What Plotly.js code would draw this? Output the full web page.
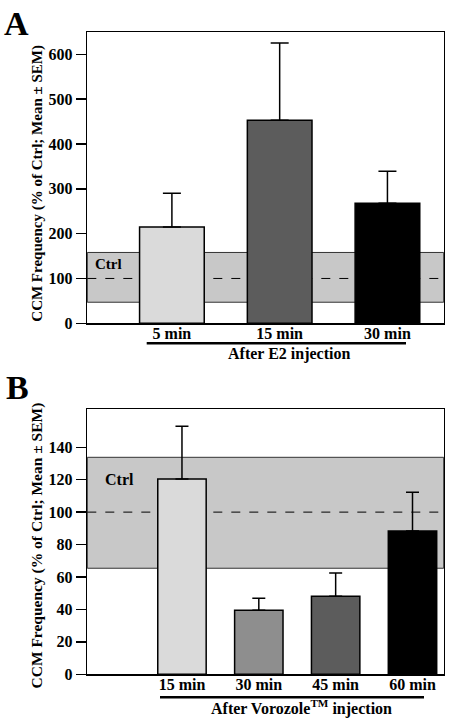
<!DOCTYPE html>
<html>
<head>
<meta charset="utf-8">
<script src="https://cdn.plot.ly/plotly-3.0.1.min.js"></script>
<style>html,body{margin:0;padding:0;background:#fff;}#chart{width:450px;height:720px;}</style>
</head>
<body>
<div id="chart"></div>
<script>
// ---- Data ----
const categoriesA = ['5 min', '15 min', '30 min'];
const valuesA = [215, 453, 268];
const semA = [75, 172, 71];
const ctrlA = {mean: 100, low: 47, high: 158};

const categoriesB = ['15 min', '30 min', '45 min', '60 min'];
const valuesB = [120.4, 39.5, 48.1, 88.4];
const semB = [32.6, 7.4, 14.4, 23.8];
const ctrlB = {mean: 100, low: 65.4, high: 133.8};

const ticksA = [0, 100, 200, 300, 400, 500, 600];
const ticksB = [0, 20, 40, 60, 80, 100, 120, 140];

const yTitle = 'CCM Frequency (% of Ctrl; Mean \u00b1 SEM)';
const groupA = 'After E2 injection';
const groupB = 'After Vorozole<sup>TM</sup> injection';

// ---- Layout helpers ----
const W = 450, H = 720;
const px = v => v / W;
const py = v => 1 - v / H;
const FONT = 'Liberation Serif';
const boldFont = (size) => ({family: FONT, size: size, color: '#000', weight: 'bold'});

const colorsA = ['#dadada', '#5c5c5c', '#000000'];
const colorsB = ['#dadada', '#8e8e8e', '#5c5c5c', '#000000'];

const traces = [
  {
    type: 'bar', x: categoriesA, y: valuesA, xaxis: 'x', yaxis: 'y',
    width: 0.6,
    marker: {color: colorsA, line: {color: '#000', width: 1.5}},
    error_y: {type: 'data', symmetric: false, array: semA, arrayminus: semA.map(() => 0),
              color: '#000', thickness: 1.5, width: 9},
    hoverinfo: 'skip', showlegend: false
  },
  {
    type: 'bar', x: categoriesB, y: valuesB, xaxis: 'x2', yaxis: 'y2',
    width: 0.63,
    marker: {color: colorsB, line: {color: '#000', width: 1.5}},
    error_y: {type: 'data', symmetric: false, array: semB, arrayminus: semB.map(() => 0),
              color: '#000', thickness: 1.5, width: 6.5},
    hoverinfo: 'skip', showlegend: false
  }
];

const xCommon = {
  type: 'category', showgrid: false, zeroline: false,
  showline: true, mirror: true, linecolor: '#000', linewidth: 1.5,
  ticks: '', tickfont: boldFont(16), ticklabelstandoff: -5, fixedrange: true
};
const yCommon = {
  showgrid: false, zeroline: false,
  showline: true, mirror: true, linecolor: '#000', linewidth: 1.5,
  ticks: 'outside', ticklen: 10, tickwidth: 1.5, tickcolor: '#000',
  tickfont: boldFont(16), fixedrange: true
};

const layout = {
  width: W, height: H,
  margin: {l: 0, r: 0, t: 0, b: 0},
  paper_bgcolor: '#fff', plot_bgcolor: '#fff',
  font: {family: FONT, color: '#000'},
  showlegend: false,
  xaxis: Object.assign({}, xCommon, {domain: [px(87.3), px(443.7)], range: [-0.785, 2.522], anchor: 'y'}),
  yaxis: Object.assign({}, yCommon, {domain: [py(323.3), py(32.3)], range: [0, 649], tickvals: ticksA, anchor: 'x'}),
  xaxis2: Object.assign({}, xCommon, {domain: [px(87.3), px(443.7)], range: [-1.232, 3.406], anchor: 'y2'}),
  yaxis2: Object.assign({}, yCommon, {domain: [py(674.3), py(409.3)], range: [0, 163.4], tickvals: ticksB, anchor: 'x2'}),
  shapes: [
    {type: 'rect', layer: 'below', xref: 'x domain', yref: 'y', x0: 0, x1: 1, y0: ctrlA.low, y1: ctrlA.high,
     fillcolor: '#c8c8c8', line: {color: '#333', width: 1}},
    {type: 'line', layer: 'below', xref: 'x domain', yref: 'y', x0: 0, x1: 1, y0: ctrlA.mean, y1: ctrlA.mean,
     line: {color: '#000', width: 1, dash: 'dash'}},
    {type: 'rect', layer: 'below', xref: 'x2 domain', yref: 'y2', x0: 0, x1: 1, y0: ctrlB.low, y1: ctrlB.high,
     fillcolor: '#c8c8c8', line: {color: '#333', width: 1}},
    {type: 'line', layer: 'below', xref: 'x2 domain', yref: 'y2', x0: 0, x1: 1, y0: ctrlB.mean, y1: ctrlB.mean,
     line: {color: '#000', width: 1, dash: 'dash'}},
    // group underlines
    {type: 'line', xref: 'paper', yref: 'paper', x0: px(146.7), x1: px(406), y0: py(343.3), y1: py(343.3),
     line: {color: '#000', width: 2.5}},
    {type: 'line', xref: 'paper', yref: 'paper', x0: px(160), x1: px(424), y0: py(697.3), y1: py(697.3),
     line: {color: '#000', width: 2.5}}
  ],
  annotations: [
    {text: 'A', xref: 'paper', yref: 'paper', x: px(16), y: py(23), xanchor: 'center', yanchor: 'middle',
     showarrow: false, font: boldFont(34)},
    {text: 'B', xref: 'paper', yref: 'paper', x: px(17), y: py(387), xanchor: 'center', yanchor: 'middle',
     showarrow: false, font: boldFont(34)},
    {text: yTitle, xref: 'paper', yref: 'paper', x: px(36.7), y: py(183), xanchor: 'center', yanchor: 'middle',
     textangle: -90, showarrow: false, font: boldFont(15)},
    {text: yTitle, xref: 'paper', yref: 'paper', x: px(36.5), y: py(546), xanchor: 'center', yanchor: 'middle',
     textangle: -90, showarrow: false, font: boldFont(15.5)},
    {text: 'Ctrl', xref: 'paper', yref: 'paper', x: px(93), y: py(264), xanchor: 'left', yanchor: 'middle',
     showarrow: false, font: boldFont(15)},
    {text: 'Ctrl', xref: 'paper', yref: 'paper', x: px(103), y: py(479.3), xanchor: 'left', yanchor: 'middle',
     showarrow: false, font: boldFont(16)},
    {text: groupA, xref: 'paper', yref: 'paper', x: px(288.7), y: py(354), xanchor: 'center', yanchor: 'middle',
     showarrow: false, font: boldFont(16)},
    {text: groupB, xref: 'paper', yref: 'paper', x: px(301), y: py(707.5), xanchor: 'center', yanchor: 'middle',
     showarrow: false, font: boldFont(16)}
  ]
};

Plotly.newPlot('chart', traces, layout, {staticPlot: true, displayModeBar: false});
</script>
</body>
</html>
